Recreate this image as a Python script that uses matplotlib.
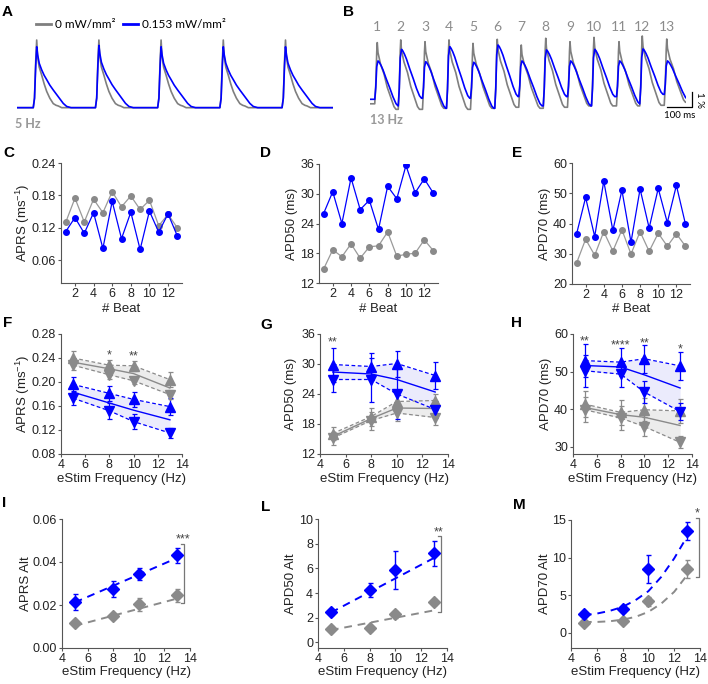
import numpy as np
import matplotlib
matplotlib.use("Agg")
import matplotlib.pyplot as plt
from matplotlib.lines import Line2D

plt.rcParams['font.family'] = ['Liberation Sans', 'DejaVu Sans']
plt.rcParams['mathtext.default'] = 'regular'

BLUE = '#0000ff'
GRAY = '#8a8a8a'
TXT = '#222222'
AXC = '#555555'

# ---------------- data ----------------
# A: 5 Hz optical traces (beat peak times in ms, template)
A_beats = [63, 262, 461, 660, 859]
A_gray_peaks = [1.0, 1.0, 1.0, 1.0, 1.0]
A_blue_peaks = [0.9, 0.92, 0.9, 0.9, 0.9]
A_rise_t = [-11, -7, -3, 0]
A_rise_f = [0, 0.15, 0.7, 1.0]
A_gray_dec_t = [3, 8, 16, 24, 32, 42, 53, 62, 69, 80]
A_gray_dec_f = [0.75, 0.6, 0.48, 0.35, 0.24, 0.14, 0.06, 0.035, 0.025, 0]
A_blue_dec_t = [3, 8, 16, 24, 32, 42, 53, 69, 85, 96, 110]
A_blue_dec_f = [0.87, 0.73, 0.62, 0.53, 0.46, 0.37, 0.29, 0.18, 0.07, 0.02, 0]

# B: 13 Hz traces (ms, % dF/F)
B_beats = [29, 123, 220, 316, 412, 509, 605, 703, 800, 896, 996, 1089, 1187]
B_gray_peaks = [4.38, 4.56, 4.44, 4.56, 4.33, 4.6, 4.22, 4.67, 4.44, 4.73, 4.44, 4.82, 4.62]
B_gray_troughs = [-0.07, -0.07, 0, -0.07, 0, 0.07, 0, 0.07, 0.16, 0.16, 0.16, 0.2, 0.4]
B_blue_peaks = [3.16, 3.93, 3.11, 4.11, 3.07, 4.22, 3.16, 3.89, 3.16, 3.93, 3.16, 3.96, 3.16]
B_blue_troughs = [0.16, 0.67, 0, 0.67, 0, 0.78, 0.16, 0.78, 0.16, 0.78, 0.29, 0.93, 0.6]
B_gray_rise_t = [-10, -6, -2, 0]
B_blue_rise_t = [-10, -6, -2, 3]
B_rise_f = [0, 0.3, 0.85, 1.0]
B_gray_dec_t = [3, 7, 13, 27, 40, 53, 67, 75]
B_gray_dec_f = [0.85, 0.78, 0.68, 0.53, 0.33, 0.19, 0.04, 0]
B_blue_dec_t = [8, 15, 23, 36, 50, 63, 75, 83]
B_blue_dec_f = [0.97, 0.9, 0.8, 0.6, 0.4, 0.2, 0.05, 0]

# C-E: beat-to-beat values at 13 Hz
beats = list(range(1, 14))
C_gray = [0.130, 0.175, 0.131, 0.173, 0.148, 0.187, 0.159, 0.179, 0.154, 0.171, 0.124, 0.145, 0.120]
C_blue = [0.113, 0.139, 0.110, 0.148, 0.082, 0.169, 0.100, 0.149, 0.080, 0.151, 0.112, 0.146, 0.105]
D_gray = [14.8, 18.7, 17.3, 19.9, 17.0, 19.3, 19.5, 22.3, 17.4, 17.8, 18.0, 20.7, 18.5]
D_blue = [26.0, 30.4, 24.0, 33.2, 26.8, 28.7, 22.8, 31.5, 29.0, 35.7, 30.2, 33.0, 30.1]
E_gray = [26.9, 34.8, 29.5, 37.3, 30.9, 37.9, 29.9, 37.3, 30.8, 36.8, 32.5, 36.6, 32.5]
E_blue = [36.5, 48.6, 35.7, 54.0, 37.7, 51.0, 33.8, 51.4, 38.5, 51.6, 40.3, 52.6, 39.8]

# F-H: long (up) / short (down) beats vs stimulation frequency
freq = [5, 8, 10, 13]
F_gray_up = [0.240, 0.228, 0.227, 0.204]
F_gray_up_err = [0.011, 0.008, 0.008, 0.013]
F_gray_dn = [0.228, 0.212, 0.202, 0.179]
F_gray_dn_err = [0.008, 0.007, 0.006, 0.008]
F_gray_mean = [0.233, 0.222, 0.214, 0.190]
F_blue_up = [0.196, 0.181, 0.171, 0.159]
F_blue_up_err = [0.012, 0.013, 0.012, 0.014]
F_blue_dn = [0.173, 0.152, 0.134, 0.115]
F_blue_dn_err = [0.012, 0.013, 0.012, 0.009]
F_blue_mean = [0.183, 0.165, 0.153, 0.137]

G_gray_up = [16.1, 19.5, 22.5, 22.7]
G_gray_up_err = [1.3, 1.8, 1.5, 1.3]
G_gray_dn = [15.2, 18.7, 20.2, 19.3]
G_gray_dn_err = [1.3, 1.8, 1.6, 1.5]
G_gray_mean = [15.5, 19.1, 21.2, 21.1]
G_blue_up = [29.9, 29.5, 30.1, 27.7]
G_blue_up_err = [3.4, 2.7, 2.6, 2.7]
G_blue_dn = [26.9, 26.9, 24.0, 20.9]
G_blue_dn_err = [2.5, 4.4, 5.0, 1.7]
G_blue_mean = [28.4, 28.0, 26.9, 24.4]

H_gray_up = [41.3, 39.1, 39.8, 39.5]
H_gray_up_err = [3.4, 3.4, 3.1, 3.2]
H_gray_dn = [39.8, 37.6, 35.3, 31.1]
H_gray_dn_err = [3.3, 3.2, 2.6, 1.6]
H_gray_mean = [40.4, 38.5, 37.8, 35.6]
H_blue_up = [52.9, 52.5, 53.4, 51.5]
H_blue_up_err = [4.4, 3.8, 3.8, 3.7]
H_blue_dn = [50.2, 49.3, 44.5, 39.3]
H_blue_dn_err = [4.2, 3.3, 2.9, 2.2]
H_blue_mean = [51.6, 51.2, 49.1, 45.6]

# I, L, M: alternans magnitude
I_gray = [0.0118, 0.0148, 0.0204, 0.0246]
I_gray_err = [0.0008, 0.0008, 0.003, 0.003]
I_blue = [0.0215, 0.0274, 0.0344, 0.0432]
I_blue_err = [0.0038, 0.0038, 0.003, 0.0035]
I_fit_x = [5, 13]
I_gray_fit = [0.0103, 0.0230]
I_blue_fit = [0.0212, 0.0419]

L_gray = [1.11, 1.16, 2.27, 3.30]
L_gray_err = [0.2, 0.2, 0.3, 0.25]
L_blue = [2.46, 4.24, 5.86, 7.22]
L_blue_err = [0.25, 0.55, 1.57, 1.0]
L_fit_x = [5, 13]
L_gray_fit = [1.0, 2.6]
L_blue_fit = [2.42, 6.85]

M_gray = [1.37, 1.60, 4.21, 8.48]
M_gray_err = [0.25, 0.3, 0.6, 1.2]
M_blue = [2.48, 3.15, 8.48, 13.58]
M_blue_err = [0.35, 0.35, 1.9, 1.2]
M_fit_x = [5, 6, 7, 8, 9, 10, 11, 12, 13]
M_gray_fit = [1.46, 1.46, 1.55, 1.77, 2.13, 2.8, 3.9, 5.46, 7.68]
M_blue_fit = [2.35, 2.57, 2.93, 3.46, 4.35, 5.55, 7.45, 9.9, 12.8]

# ---------------- figure ----------------
W, H = 708, 684
fig = plt.figure(figsize=(W / 100, H / 100), dpi=100)


def axes_px(l, t, r, b):
    return fig.add_axes([l / W, 1 - b / H, (r - l) / W, (b - t) / H])


def letter(x, y, s):
    fig.text(x / W, 1 - y / H, s, fontsize=11, fontweight='bold', ha='left', va='top')


def build_trace(times, peaks, troughs, start, rise_t, rise_f, dec_t, dec_f, t_end):
    tt, vv = [0], [start]
    prev = start
    for k, tk in enumerate(times):
        for dt, f in zip(rise_t, rise_f):
            tt.append(tk + dt)
            vv.append(prev + (peaks[k] - prev) * f)
        nxt = troughs[k]
        for dt, f in zip(dec_t, dec_f):
            tt.append(tk + dt)
            vv.append(nxt + (peaks[k] - nxt) * f)
        prev = nxt
    tt.append(max(t_end, tt[-1]))
    vv.append(prev)
    return tt, vv


def style(ax, box):
    for s in ['top', 'right']:
        ax.spines[s].set_visible(False)
    for s in ['left', 'bottom']:
        ax.spines[s].set_color(AXC)
        ax.spines[s].set_linewidth(0.8)
    ax.tick_params(colors=AXC, labelcolor=TXT, labelsize=9, length=2.5, width=0.8, pad=1)


def set_labels(ax, box, ylab, ylab_x, xlab, xlab_y):
    l, t, r, b = box
    ax.set_ylabel(ylab, fontsize=9.5, color=TXT, va='center')
    ax.yaxis.set_label_coords((ylab_x - l) / (r - l), 0.5)
    ax.set_xlabel(xlab, fontsize=9.5, color=TXT, va='center')
    ax.xaxis.set_label_coords(0.5, (b - xlab_y) / (b - t))


# ---- A ----
boxA = (17, 35, 333, 112)
axA = axes_px(*boxA)
t, v = build_trace(A_beats, A_gray_peaks, [0] * 5, 0, A_rise_t, A_rise_f,
                   A_gray_dec_t, A_gray_dec_f, 1011)
axA.plot(t, v, color='#7f7f7f', lw=1.2)
t, v = build_trace(A_beats, A_blue_peaks, [0] * 5, 0, A_rise_t, A_rise_f,
                   A_blue_dec_t, A_blue_dec_f, 1011)
axA.plot(t, v, color=BLUE, lw=1.2)
axA.set_xlim(0, 1011)
axA.set_ylim(-0.064, 1.074)
axA.axis('off')
handles = [Line2D([], [], color='#7f7f7f', lw=2), Line2D([], [], color=BLUE, lw=2)]
axA.legend(handles, ['0 mW/mm²', '0.153 mW/mm²'], ncol=2, frameon=False,
           loc='center', bbox_to_anchor=(0.36, 1.13),
           handlelength=1.3, handletextpad=0.35, columnspacing=0.6,
           prop={'family': ['Lato', 'DejaVu Sans'], 'size': 8.5})
axA.text(-2 / 316, -0.15, '5 Hz', transform=axA.transAxes, fontsize=9, fontweight='bold',
         color='#999999', family=['Lato', 'DejaVu Sans'], va='center', ha='left')

# ---- B ----
boxB = (370, 35, 686, 112)
axB = axes_px(*boxB)
t, v = build_trace(B_beats, B_gray_peaks, B_gray_troughs, 0.3, B_gray_rise_t, B_rise_f,
                   B_gray_dec_t, B_gray_dec_f, 1264)
axB.plot(t, v, color='#7f7f7f', lw=1.2)
t, v = build_trace(B_beats, B_blue_peaks, B_blue_troughs, 0.6, B_blue_rise_t, B_rise_f,
                   B_blue_dec_t, B_blue_dec_f, 1264)
axB.plot(t, v, color=BLUE, lw=1.2)
axB.set_xlim(0, 1264)
axB.set_ylim(-0.247, 4.887)
axB.axis('off')
for k, tk in enumerate(B_beats):
    axB.text(tk, 5.4, str(k + 1), ha='center', va='center', fontsize=10, color='#8c8c8c',
             family=['Lato', 'DejaVu Sans'], clip_on=False)
axB.plot([1188, 1288, 1288], [0.07, 0.07, 1.07], color='black', lw=0.9, clip_on=False)
axB.text(1238, -0.2, '100 ms', ha='center', va='top', fontsize=7, clip_on=False,
         family=['Lato', 'DejaVu Sans'])
axB.text(1318, 0.57, '1 %', ha='center', va='center', rotation=-90, fontsize=7,
         clip_on=False, family=['Lato', 'DejaVu Sans'])
axB.text(0, -0.75, '13 Hz', fontsize=9, fontweight='bold', color='#999999',
         family=['Lato', 'DejaVu Sans'], va='center', ha='left', clip_on=False)

# ---- C, D, E ----
row1 = [((61, 163, 182, 283), C_gray, C_blue, (0.018, 0.24), [0.06, 0.12, 0.18, 0.24],
         'APRS (ms$^{-1}$)', 23),
        ((319, 164, 438, 283), D_gray, D_blue, (12, 36), [12, 18, 24, 30, 36],
         'APD50 (ms)', 292),
        ((572, 163, 690, 284), E_gray, E_blue, (20, 60), [20, 30, 40, 50, 60],
         'APD70 (ms)', 545)]
for box, g, bl, ylim, yt, ylab, ylx in row1:
    ax = axes_px(*box)
    ax.plot(beats, g, color='#9a9a9a', lw=0.9, marker='o', ms=4, mfc=GRAY, mec=GRAY)
    ax.plot(beats, bl, color=BLUE, lw=0.9, marker='o', ms=4, mfc=BLUE, mec=BLUE)
    ax.set_xlim(0.5, 13.5)
    ax.set_ylim(*ylim)
    ax.set_xticks([2, 4, 6, 8, 10, 12])
    ax.set_yticks(yt)
    if isinstance(yt[0], float):
        ax.set_yticklabels(['%.2f' % y for y in yt])
    style(ax, box)
    set_labels(ax, box, ylab, ylx, '# Beat', 309)

letter(3, 146, 'C')
letter(260, 146, 'D')
letter(512, 146, 'E')

# ---- F, G, H ----
row2 = [((61, 334, 182, 454), 'F',
         (F_gray_up, F_gray_up_err, F_gray_dn, F_gray_dn_err, F_gray_mean),
         (F_blue_up, F_blue_up_err, F_blue_dn, F_blue_dn_err, F_blue_mean),
         (0.08, 0.28), [0.08, 0.12, 0.16, 0.20, 0.24, 0.28], 'APRS (ms$^{-1}$)', 23,
         [(8, 0.244, '*'), (10, 0.242, '**')]),
        ((320, 334, 448, 454), 'G',
         (G_gray_up, G_gray_up_err, G_gray_dn, G_gray_dn_err, G_gray_mean),
         (G_blue_up, G_blue_up_err, G_blue_dn, G_blue_dn_err, G_blue_mean),
         (12, 36), [12, 18, 24, 30, 36], 'APD50 (ms)', 291,
         [(5, 34.4, '**')]),
        ((573, 334, 692, 454), 'H',
         (H_gray_up, H_gray_up_err, H_gray_dn, H_gray_dn_err, H_gray_mean),
         (H_blue_up, H_blue_up_err, H_blue_dn, H_blue_dn_err, H_blue_mean),
         (28, 60), [30, 40, 50, 60], 'APD70 (ms)', 546,
         [(5, 57.9, '**'), (8, 57.0, '****'), (10, 57.6, '**'), (13, 55.9, '*')])]

for box, lab, gset, bset, ylim, yt, ylab, ylx, stars in row2:
    ax = axes_px(*box)
    for (up, upe, dn, dne, mean), col, fillc, lcol in [
            (gset, GRAY, '#ececec', '#8a8a8a'), (bset, BLUE, '#ebebfc', BLUE)]:
        ax.fill_between(freq, up, dn, color=fillc, lw=0, zorder=1)
        ax.plot(freq, up, color=lcol, lw=0.9, dashes=(3, 2), zorder=2)
        ax.plot(freq, dn, color=lcol, lw=0.9, dashes=(3, 2), zorder=2)
        ax.plot(freq, mean, color=lcol, lw=1.0, zorder=2)
        ax.errorbar(freq, up, yerr=upe, fmt='^', ms=7.5, color=col, mec=col, mfc=col,
                    elinewidth=0.9, capsize=1.8, capthick=0.9, zorder=3)
        ax.errorbar(freq, dn, yerr=dne, fmt='v', ms=7.5, color=col, mec=col, mfc=col,
                    elinewidth=0.9, capsize=1.8, capthick=0.9, zorder=3)
    for sx, sy, s in stars:
        ax.text(sx, sy, s, ha='center', va='center', fontsize=9, color='#444444')
    ax.set_xlim(4, 14)
    ax.set_ylim(*ylim)
    ax.set_xticks([4, 6, 8, 10, 12, 14])
    ax.set_yticks(yt)
    if isinstance(yt[0], float):
        ax.set_yticklabels(['%.2f' % y for y in yt])
    style(ax, box)
    set_labels(ax, box, ylab, ylx, 'eStim Frequency (Hz)', 479)

letter(3, 316, 'F')
letter(260, 318, 'G')
letter(511, 316, 'H')

# ---- I, L, M ----
row3 = [((62, 519, 190, 648), I_gray, I_gray_err, I_blue, I_blue_err,
         I_fit_x, I_gray_fit, I_blue_fit, (0, 0.06), [0.0, 0.02, 0.04, 0.06],
         'APRS Alt', 26, (13.57, 0.0482, 0.0208), (13.45, 0.0503, '***')),
        ((318, 519, 447, 648), L_gray, L_gray_err, L_blue, L_blue_err,
         L_fit_x, L_gray_fit, L_blue_fit, (-0.45, 10), [0, 2, 4, 6, 8, 10],
         'APD50 Alt', 291, (13.56, 8.62, 2.49), (13.35, 8.95, '**')),
        ((571, 520, 700, 648), M_gray, M_gray_err, M_blue, M_blue_err,
         M_fit_x, M_gray_fit, M_blue_fit, (-2, 15), [0, 5, 10, 15],
         'APD70 Alt', 545, (13.95, 15.2, 7.4), (13.8, 15.9, '*'))]

for (box, g, ge, bl, be, fx, gf, bf, ylim, yt, ylab, ylx, br, st) in row3:
    ax = axes_px(*box)
    ax.plot(fx, gf, color='#8a8a8a', lw=1.4, dashes=(4, 3), zorder=1)
    ax.plot(fx, bf, color=BLUE, lw=1.4, dashes=(4, 3), zorder=1)
    ax.errorbar(freq, g, yerr=ge, fmt='D', ms=6.5, color=GRAY, mec=GRAY, mfc=GRAY,
                elinewidth=1.0, capsize=1.8, capthick=1.0, zorder=3)
    ax.errorbar(freq, bl, yerr=be, fmt='D', ms=6.5, color=BLUE, mec=BLUE, mfc=BLUE,
                elinewidth=1.0, capsize=1.8, capthick=1.0, zorder=3)
    bx, btop, bbot = br
    ax.plot([bx - 0.25, bx, bx, bx - 0.25], [btop, btop, bbot, bbot], color='#777777',
            lw=0.9, clip_on=False)
    ax.text(st[0], st[1], st[2], ha='center', va='center', fontsize=9, color='#444444',
            clip_on=False)
    ax.set_xlim(4, 14)
    ax.set_ylim(*ylim)
    ax.set_xticks([4, 6, 8, 10, 12, 14])
    ax.set_yticks(yt)
    if isinstance(yt[-1], float):
        ax.set_yticklabels(['%.2f' % y for y in yt])
    style(ax, box)
    set_labels(ax, box, ylab, ylx, 'eStim Frequency (Hz)', 672)

letter(2, 496, 'I')
letter(261, 500, 'L')
letter(513, 498, 'M')
letter(2, 5, 'A')
letter(343, 5, 'B')

fig.savefig('out.png', dpi=100)
